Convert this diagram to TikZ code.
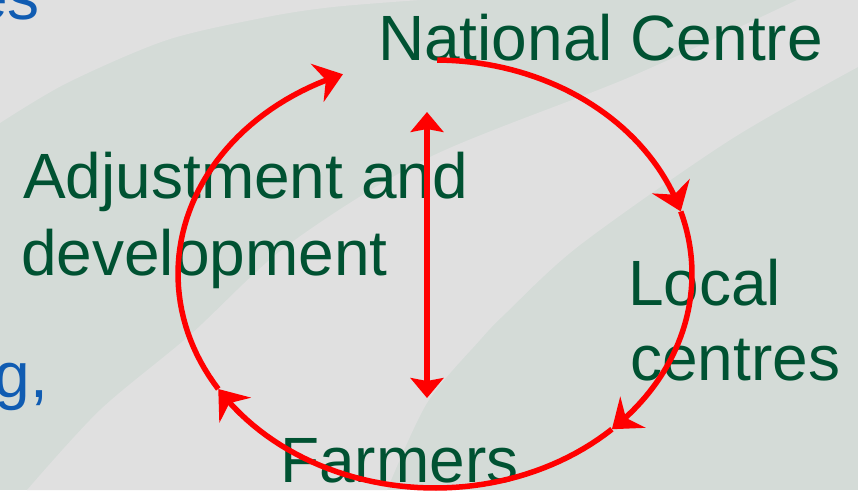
\documentclass[tikz,border=0pt]{standalone}
\usepackage{fontspec}
\setmainfont{Liberation Sans}
\usetikzlibrary{arrows.meta}
\definecolor{bglight}{RGB}{224,224,224}
\definecolor{bgdark}{RGB}{212,219,215}
\definecolor{txtgreen}{RGB}{0,82,50}
\definecolor{txtblue}{RGB}{16,92,178}
\definecolor{arrowred}{RGB}{255,0,0}
\begin{document}
\begin{tikzpicture}[x=1pt,y=-1pt,
  lbl/.style={font=\fontsize{64}{64}\selectfont, text=txtgreen, inner sep=0pt, anchor=base west},
  bluelbl/.style={font=\fontsize{64}{64}\selectfont, text=txtblue, inner sep=0pt, anchor=base east},
  cyc/.style={draw=arrowred, line width=5.5pt, -{Stealth[length=27pt,width=40pt,inset=9pt]}},
  dbl/.style={draw=arrowred, line width=6pt, {Stealth[length=20pt,width=33pt,inset=3pt]}-{Stealth[length=20pt,width=33pt,inset=3pt]}}
]
\useasboundingbox (0,0) rectangle (858,490);
\clip (0,0) rectangle (858,490);
% background
\fill[bgdark] (0,0) rectangle (858,490);
\fill[bglight] (0,0) -- (420,0) -- plot[smooth] coordinates {(420,0) (333,7) (267,17) (167,40) (67,83) (0,123)} -- cycle;
\fill[bglight] (797,0) -- (858,0) -- (858,67)
  -- plot[smooth] coordinates {(858,67) (730,140) (580,245) (507,312) (480,340) (427,403) (387,490)}
  -- (27,490)
  -- plot[smooth] coordinates {(27,490) (100,410) (190,335) (288,245) (430,157) (630,77) (797,0)}
  -- cycle;
% blue fragments
\node[bluelbl] (es) at (40,19) {es};
\node[bluelbl] (gc) at (48,397) {g,};
% green labels
\node[lbl] (national) at (378,60) {National Centre};
\node[lbl] (adj1) at (23,198) {Adjustment and};
\node[lbl] (adj2) at (21,275) {development};
\node[lbl] (local1) at (628,305) {Local};
\node[lbl] (local2) at (630,380) {centres};
\node[lbl] (farmers) at (280,482) {Farmers};
% cycle arrows
\coordinate (ctr) at (435,274);
\draw[cyc] plot[domain=-89.5:-17, samples=40, variable=\t] ({435+257*cos(\t)},{274+214*sin(\t)});
\draw[cyc] plot[domain=-17:46.5, samples=40, variable=\t] ({435+257*cos(\t)},{274+214*sin(\t)});
\draw[cyc] plot[domain=46.5:147.5, samples=50, variable=\t] ({435+257*cos(\t)},{274+214*sin(\t)});
\draw[cyc] plot[domain=147.5:249, samples=50, variable=\t] ({435+257*cos(\t)},{274+214*sin(\t)});
% vertical double arrow
\coordinate (vtop) at (427,112);
\coordinate (vbot) at (427,398);
\draw[dbl] (vtop) -- (vbot);
\end{tikzpicture}
\end{document}
